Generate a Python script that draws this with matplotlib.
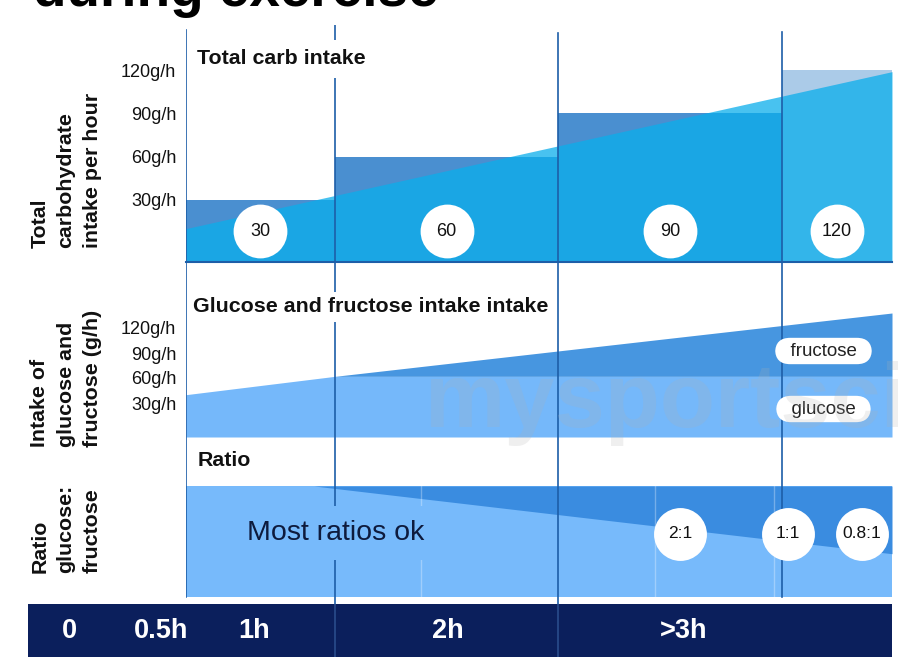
import matplotlib.pyplot as plt
import numpy as np

plt.rcParams['font.family'] = ['Liberation Sans', 'DejaVu Sans']

W, H = 898, 658

# time segments (layout units along the x axis) and the recommended steps
seg_edges = [0, 1, 2.5, 4, 4.74]
step_values = [30, 60, 90, 120]
step_labels = ['30', '60', '90', '120']

# rising "total carb" ramp
ramp_x = [0, 4.74]
ramp_y = [10, 119]

# glucose / fructose intake (g/h)
gf_x = [0, 1, 4.74]
glucose = [40, 62, 62]
total = [40, 62, 138]

# ratio panel: share of the band that is glucose
ratio_x = [0.86, 4.74]
ratio_line = [1.0, 0.39]
ratio_labels = ['2:1', '1:1', '0.8:1']
ratio_label_x = [3.32, 4.04, 4.54]

gh_ticks = [30, 60, 90, 120]
gh_labels = ['30g/h', '60g/h', '90g/h', '120g/h']

time_labels = ['0', '0.5h', '1h', '2h', '>3h']
time_label_x = [-0.78, -0.17, 0.46, 1.76, 3.34]

line_c = '#1d5ea8'


def px_axes(fig, left, top, right, bottom):
    ax = fig.add_axes([left / W, 1 - bottom / H, (right - left) / W, (bottom - top) / H])
    ax.patch.set_alpha(0)
    for s in ax.spines.values():
        s.set_visible(False)
    ax.set_xticks([])
    ax.set_yticks([])
    return ax


def gh_axis(ax):
    ax.set_yticks(gh_ticks)
    ax.set_yticklabels(gh_labels)
    ax.tick_params(axis='y', length=0, pad=7, labelsize=13, labelcolor='#111111')


fig = plt.figure(figsize=(W / 100, H / 100), dpi=100)

# title, cut off at the top like the screenshot
fig.text(33 / W, 1 - 6 / H, 'during exercise', fontsize=39.5, weight='bold',
         va='baseline', ha='left', color='black')

# ---- panel 1: total carb intake
ax1 = px_axes(fig, 186, 25, 892, 262)
ax1.set_xlim(0, 4.74)
lo1 = -13.2
ax1.set_ylim(lo1, 151.4)
widths = np.diff(seg_edges)
ax1.bar(seg_edges[:-1], np.array(step_values) - lo1, bottom=lo1, width=widths,
        align='edge', color=['#4a8fd0'] * 3 + ['#abcbe8'], linewidth=0, zorder=1)
ax1.fill_between(ramp_x, lo1, ramp_y, color='#0baeeb', alpha=0.75, lw=0, zorder=2)
for x, top in zip(seg_edges[:-1], [0.979, 1.0, 0.966, 0.97]):
    ax1.axvline(x, ymin=0, ymax=top, color=line_c, lw=1.2, zorder=3)
ax1.spines['bottom'].set_visible(True)
ax1.spines['bottom'].set_color(line_c)
ax1.spines['bottom'].set_linewidth(1.5)
centers = [(a + b) / 2 for a, b in zip(seg_edges[:-1], seg_edges[1:])]
ax1.scatter(centers, [8.3] * 4, s=1500, color='white', zorder=4, linewidths=0)
for c, t in zip(centers, step_labels):
    ax1.text(c, 8.3, t, ha='center', va='center', fontsize=13, color='#111111', zorder=5)
ax1.text(0.074, 127.8, 'Total carb intake', ha='left', va='center', fontsize=15.4,
         weight='bold', color='#111111', zorder=6,
         bbox=dict(facecolor='white', edgecolor='none', pad=7))
gh_axis(ax1)

# ---- panel 2: glucose and fructose
ax2 = px_axes(fig, 186, 262, 892, 470)
ax2.set_xlim(0, 4.74)
ax2.set_ylim(-50.4, 199.2)
lo2 = -10.8
ax2.fill_between(gf_x, lo2, glucose, color='#75b8fa', lw=0, zorder=1)
ax2.fill_between(gf_x, glucose, total, color='#4796e0', lw=0, zorder=1)
for x in seg_edges[:-1]:
    ax2.axvline(x, color=line_c, lw=1.2, zorder=3)
ax2.text(0.047, 145.3, 'Glucose and fructose intake intake', ha='left', va='center',
         fontsize=15.4, weight='bold', color='#111111', zorder=6,
         bbox=dict(facecolor='white', edgecolor='none', pad=4))
ax2.text(0.08, -39.6, 'Ratio', ha='left', va='center', fontsize=15.4,
         weight='bold', color='#111111', zorder=6)
for name, yv in [('fructose', 92.4), ('glucose', 22.8)]:
    ax2.text(4.28, yv, '  ' + name + '  ', ha='center', va='center', fontsize=13.5,
             color='#222222', zorder=6,
             bbox=dict(boxstyle='round,pad=0.25,rounding_size=0.8',
                       facecolor='white', edgecolor='none'))
gh_axis(ax2)

# ---- panel 3: ratio
ax3 = px_axes(fig, 186, 470, 892, 604)
ax3.set_xlim(0, 4.74)
ax3.set_ylim(-0.063, 1.144)
ax3.fill_between([0, 4.74], 0, 1, color='#77bafb', lw=0, zorder=1)
ax3.fill_between(ratio_x, ratio_line, 1, color='#3a8ce0', lw=0, zorder=1)
for x in [1.58, 3.15, 3.95]:
    ax3.axvline(x, ymin=0.052, ymax=0.881, color='white', alpha=0.3, lw=1, zorder=2)
for x, lo in zip(seg_edges[:-1], [0.052, 0, 0, 0.052]):
    ax3.axvline(x, ymin=lo, ymax=1, color=line_c, lw=1.2, zorder=3)
ax3.text(1.007, 0.577, 'Most ratios ok', ha='center', va='center', fontsize=20.5,
         color='#0e1b3d', zorder=6,
         bbox=dict(facecolor='#77bafb', edgecolor='none', pad=10))
ax3.scatter(ratio_label_x, [0.57] * 3, s=1450, color='white', zorder=4, linewidths=0)
for x, t in zip(ratio_label_x, ratio_labels):
    ax3.text(x, 0.57, t, ha='center', va='center', fontsize=12.5, color='#111111', zorder=5)

# ---- time bar
ax4 = px_axes(fig, 28, 604, 892, 657)
ax4.patch.set_alpha(1)
ax4.set_facecolor('#0b1f5c')
ax4.set_xlim(-1.06, 4.74)
ax4.set_ylim(0, 1)
for x in [1, 2.5]:
    ax4.axvline(x, color='#2a4c8c', lw=1.2)
for x, t in zip(time_label_x, time_labels):
    ax4.text(x, 0.5, t, ha='center', va='center', fontsize=19.5, weight='bold', color='white')

# rotated panel labels
for text, bottom in [('Total\ncarbohydrate\nintake per hour', 248),
                     ('Intake of\nglucose and\nfructose (g/h)', 447),
                     ('Ratio\nglucose:\nfructose', 573)]:
    fig.text(66 / W, 1 - bottom / H, text, rotation=90, ha='center', va='bottom',
             multialignment='left', fontsize=15.4, weight='bold', color='#111111',
             linespacing=1.48)

# watermark
fig.text(425 / W, 1 - 427 / H, 'mysportscience', fontsize=65, weight='bold',
         color='#b0b0b0', alpha=0.2, va='baseline', ha='left')

fig.savefig('out.png', dpi=100)
